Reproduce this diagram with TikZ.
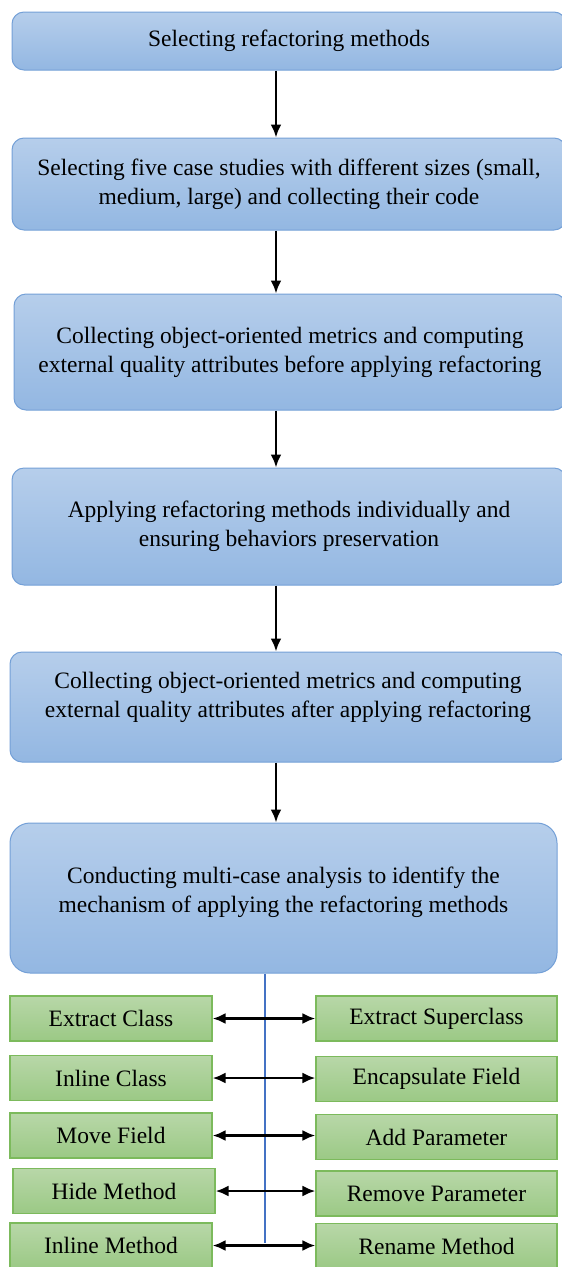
\documentclass[tikz,border=0pt]{standalone}
\usepackage{fontspec}
\setmainfont{Liberation Serif}
\usetikzlibrary{positioning}
\usetikzlibrary{calc}
\usetikzlibrary{arrows.meta}
\definecolor{stagetop}{RGB}{182,206,235}
\definecolor{stagebot}{RGB}{147,183,226}
\definecolor{stageline}{RGB}{116,160,215}
\definecolor{methtop}{RGB}{184,215,168}
\definecolor{methbot}{RGB}{155,201,133}
\definecolor{methline}{RGB}{124,186,92}
\definecolor{hubline}{RGB}{68,114,196}

\begin{document}
\begin{tikzpicture}
    [x=1pt, y=-1pt,
    stage/.style={draw=stageline, line width=1pt, rounded corners=12pt, top color=stagetop, bottom color=stagebot, align=center, inner sep=0pt, font=\fontsize{23.5}{29}\selectfont},
    method/.style={draw=methline, line width=1.2pt, top color=methtop, bottom color=methbot, inner sep=0pt, minimum height=45pt, font=\fontsize{23.5}{29}\selectfont},
    flow/.style={-{Latex[length=13pt, width=11pt]}, line width=2.5pt},
    pair/.style={{Latex[length=13pt, width=11pt]}-{Latex[length=13pt, width=11pt]}, line width=2.5pt}]
     \useasboundingbox (0,0) rectangle (562,1267);
     %\draw[step=50,gray,very thin] (0,0) grid (562,1267);
     \coordinate (axis) at (276, 0);
     \coordinate (hub) at (265, 1243);
     \node[stage, minimum width=554pt, minimum height=58pt]  (s1) at (289, 41)    {Selecting refactoring methods};
     \node[stage, minimum width=554pt, minimum height=92pt]  (s2) at (289, 184)   {Selecting five case studies with different sizes (small,\\ medium, large) and collecting their code};
     \node[stage, minimum width=552pt, minimum height=116pt] (s3) at (290, 352)   {Collecting object-oriented metrics and computing\\ external quality attributes before applying refactoring};
     \node[stage, minimum width=554pt, minimum height=117pt] (s4) at (289, 526.5) {Applying refactoring methods individually and\\ ensuring behaviors preservation};
     \node[stage, minimum width=556pt, minimum height=110pt] (s5) at (288, 707)   {Collecting object-oriented metrics and computing\\ external quality attributes after applying refactoring\\[-5pt]};
     \node[stage, minimum width=547pt, minimum height=150pt, rounded corners=20pt] (s6) at (283.5, 898) {Conducting multi-case analysis to identify the\\ mechanism of applying the refactoring methods\\[-13pt]};
     \node[method, minimum width=202pt] (ec)  at (111, 1018.5)  {Extract Class};
     \node[method, minimum width=202pt] (ic)  at (111, 1078)    {Inline Class};
     \node[method, minimum width=202pt] (mf)  at (111, 1135.5)  {Move Field};
     \node[method, minimum width=202pt] (hm)  at (114, 1191)    {Hide Method};
     \node[method, minimum width=202pt] (im)  at (111, 1245.5)  {Inline Method};
     \node[method, minimum width=241pt] (esc) at (436.5, 1018.5) {Extract Superclass};
     \node[method, minimum width=241pt] (ef)  at (436.5, 1079)   {Encapsulate Field};
     \node[method, minimum width=241pt] (ap)  at (436.5, 1137)   {Add Parameter};
     \node[method, minimum width=241pt] (rp)  at (436.5, 1193.5) {Remove Parameter};
     \node[method, minimum width=241pt] (rm)  at (436.5, 1246)   {Rename Method};
     \draw[flow] (s1.south -| axis) -- (s2.north -| axis);
     \draw[flow] (s2.south -| axis) -- (s3.north -| axis);
     \draw[flow] (s3.south -| axis) -- (s4.north -| axis);
     \draw[flow] (s4.south -| axis) -- (s5.north -| axis);
     \draw[flow] (s5.south -| axis) -- (s6.north -| axis);
     \draw[hubline, line width=2pt] (s6.south -| hub) -- (hub);
     \draw[pair] (ec.east) -- (ec.east -| esc.west);
     \draw[pair] (ic.east) -- (ic.east -| ef.west);
     \draw[pair] (mf.east) -- (mf.east -| ap.west);
     \draw[pair] (hm.east) -- (hm.east -| rp.west);
     \draw[pair] (im.east) -- (im.east -| rm.west);
\end{tikzpicture}
\end{document}
